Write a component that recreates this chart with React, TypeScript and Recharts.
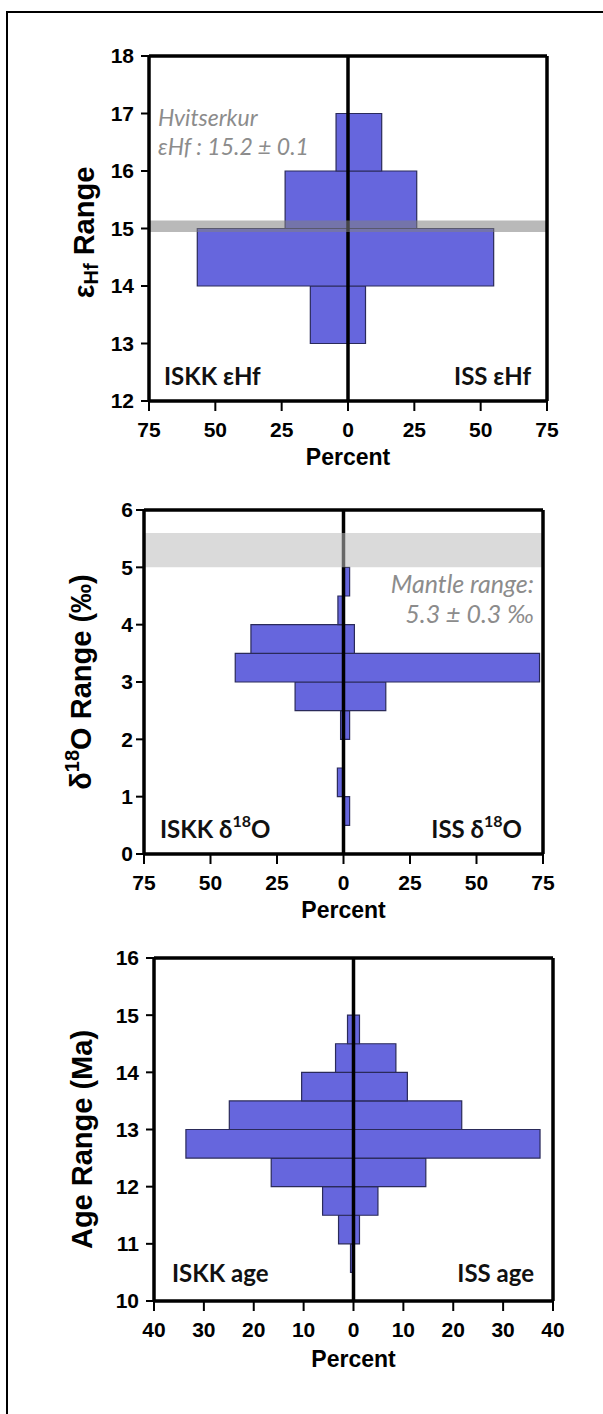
import { ComposedChart, Bar, XAxis, YAxis, ReferenceLine, ReferenceArea, Label } from 'recharts';

// eHf histogram, 1-unit bins (bin centres), percent of each suite
const hfBinMid = [13.5, 14.5, 15.5, 16.5];
const hfIskk = [14.2, 56.8, 23.7, 4.5];
const hfIss = [6.6, 54.9, 25.9, 12.7];
const hfTicks = [12, 13, 14, 15, 16, 17, 18];

// d18O histogram, 0.5 permil bins
const oBinMid = [0.75, 1.25, 1.75, 2.25, 2.75, 3.25, 3.75, 4.25, 4.75];
const oIskk = [0, 2.3, 0, 1.1, 18.2, 40.7, 34.8, 2.1, 0];
const oIss = [2.3, 0, 0, 2.3, 15.9, 73.7, 4.1, 0, 2.3];
const oTicks = [0, 1, 2, 3, 4, 5, 6];

// age histogram, 0.5 Ma bins
const ageBinMid = [10.75, 11.25, 11.75, 12.25, 12.75, 13.25, 13.75, 14.25, 14.75];
const ageIskk = [0.6, 3.0, 6.2, 16.5, 33.6, 24.9, 10.4, 3.6, 1.2];
const ageIss = [0, 1.2, 4.9, 14.5, 37.4, 21.7, 10.8, 8.5, 1.2];
const ageTicks = [10, 11, 12, 13, 14, 15, 16];

const pct75 = [-75, -50, -25, 0, 25, 50, 75];
const pct40 = [-40, -30, -20, -10, 0, 10, 20, 30, 40];

// reference bands
const hvitserkurBand = [14.94, 15.14];
const mantleBand = [5.0, 5.6];

const toRows = (mid: number[], left: number[], right: number[]) =>
  mid.map((m, i) => ({ mid: m, iskk: -left[i], iss: right[i] }));

const ARIAL = '"Liberation Sans", Arial, sans-serif';
const CALIBRI = 'Lato, "Noto Sans", sans-serif';
const BAR_FILL = '#6666dd';
const BAR_EDGE = '#2a2a5a';
const tickFont = { fontFamily: ARIAL, fontWeight: 700, fontSize: 21, fill: '#000' };
const axisLine = { stroke: '#000', strokeWidth: 3.5 };
const tickLine = { stroke: '#000', strokeWidth: 2 };

const TOP_H = 26;

function Panel(props: any) {
  const { top, height, bottomH, leftW, rightW, rows, xTicks, yTicks, bin, yLabel, labelX, labelDy, pctDy,
    yTickMargin, band, bandFill, bandOpacity, children } = props;
  const xDom = [xTicks[0], xTicks[xTicks.length - 1]];
  const yDom = [yTicks[0], yTicks[yTicks.length - 1]];
  const plotH = height - TOP_H - bottomH;
  // a hair under the bin height so recharts keeps the exact size
  const barSize = (bin * plotH) / (yDom[1] - yDom[0]) - 0.02;

  return (
    <div style={{ position: 'absolute', left: 0, top }}>
      <ComposedChart width={603} height={height} data={rows} layout="vertical" stackOffset="sign"
        barCategoryGap={0} barGap={0} margin={{ top: 0, right: 0, bottom: 0, left: 0 }}>
        <XAxis type="number" domain={xDom} ticks={xTicks} allowDataOverflow interval={0}
          tickFormatter={(v: number) => String(Math.abs(v))} height={bottomH}
          tickSize={10} tickMargin={11} tick={tickFont} axisLine={axisLine} tickLine={tickLine}>
          <Label content={(p: any) => {
            const vb = p.viewBox;
            return (
              <text x={vb.x + vb.width / 2} y={vb.y + pctDy} textAnchor="middle" dominantBaseline="central"
                fontFamily={ARIAL} fontWeight={700} fontSize={23} fill="#000">Percent</text>
            );
          }} />
        </XAxis>
        <XAxis xAxisId="top" orientation="top" type="number" domain={xDom} ticks={xTicks} allowDataOverflow
          interval={0} height={TOP_H} tick={false} tickSize={11} axisLine={axisLine} tickLine={tickLine} />
        <YAxis type="number" dataKey="mid" domain={yDom} ticks={yTicks} reversed allowDataOverflow interval={0}
          width={leftW} tickSize={8} tickMargin={yTickMargin} tick={tickFont} axisLine={axisLine} tickLine={tickLine}>
          <Label content={(p: any) => {
            const vb = p.viewBox;
            const cy = vb.y + vb.height / 2 + labelDy;
            return (
              <text x={labelX} y={cy} transform={`rotate(-90 ${labelX} ${cy})`} textAnchor="middle"
                dominantBaseline="central" fontFamily={ARIAL} fontWeight={700} fontSize={29} fill="#000">
                {yLabel}
              </text>
            );
          }} />
        </YAxis>
        <YAxis yAxisId="right" orientation="right" type="number" domain={yDom} ticks={yTicks} reversed
          allowDataOverflow interval={0} width={rightW} tick={false} tickSize={8} axisLine={axisLine} tickLine={tickLine} />
        <Bar dataKey="iskk" stackId="s" barSize={barSize} fill={BAR_FILL} stroke={BAR_EDGE} strokeWidth={1.2}
          isAnimationActive={false} />
        <Bar dataKey="iss" stackId="s" barSize={barSize} fill={BAR_FILL} stroke={BAR_EDGE} strokeWidth={1.2}
          isAnimationActive={false} />
        <ReferenceLine x={0} stroke="#000" strokeWidth={3.5} zIndex={450} />
        <ReferenceArea y1={band[0]} y2={band[1]} fill={bandFill} fillOpacity={bandOpacity} stroke="none"
          ifOverflow="visible" zIndex={460} />
        {children}
      </ComposedChart>
    </div>
  );
}

const gray = '#8c8c8c';

export default function App() {
  return (
    <div style={{ position: 'absolute', left: 0, top: 0, width: 603, height: 1414, overflow: 'hidden', background: '#fff' }}>
      <div style={{ position: 'absolute', left: 6, top: 11, width: 700, height: 1500,
        borderTop: '2px solid #000', borderLeft: '2px solid #000' }} />

      <Panel top={30} height={443} bottomH={72} leftW={149} rightW={56} rows={toRows(hfBinMid, hfIskk, hfIss)}
        xTicks={pct75} yTicks={hfTicks} bin={1} labelX={84} labelDy={4} pctDy={56} yTickMargin={7}
        band={hvitserkurBand} bandFill="#808080" bandOpacity={0.55}
        yLabel={<>
          <tspan>ε</tspan>
          <tspan dy={7} fontSize={20}>Hf</tspan>
          <tspan dy={-7}> Range</tspan>
        </>}>
        <text x={158} y={87} dominantBaseline="central" fontFamily={CALIBRI} fontStyle="italic" fontSize={23} fill={gray}>Hvitserkur</text>
        <text x={158} y={116} dominantBaseline="central" fontFamily={CALIBRI} fontStyle="italic" fontSize={23} fill={gray}>εHf : 15.2 ± 0.1</text>
        <text x={164} y={345} dominantBaseline="central" fontFamily={CALIBRI} fontWeight={700} fontSize={24} fill="#111">ISKK εHf</text>
        <text x={531} y={345} textAnchor="end" dominantBaseline="central" fontFamily={CALIBRI} fontWeight={700} fontSize={24} fill="#111">ISS εHf</text>
      </Panel>

      <Panel top={484} height={442} bottomH={72} leftW={144} rightW={60} rows={toRows(oBinMid, oIskk, oIss)}
        xTicks={pct75} yTicks={oTicks} bin={0.5} labelX={81} labelDy={0} pctDy={56} yTickMargin={3}
        band={mantleBand} bandFill="#bbbbbb" bandOpacity={0.55}
        yLabel={<>
          <tspan>δ</tspan>
          <tspan dy={-9} fontSize={20}>18</tspan>
          <tspan dy={9}>O Range (‰)</tspan>
        </>}>
        <text x={534} y={99} textAnchor="end" dominantBaseline="central" fontFamily={CALIBRI} fontStyle="italic" fontSize={25} fill={gray}>Mantle range:</text>
        <text x={534} y={129} textAnchor="end" dominantBaseline="central" fontFamily={CALIBRI} fontStyle="italic" fontSize={25} fill={gray}>5.3 ± 0.3 ‰</text>
        <text x={160} y={344} dominantBaseline="central" fontFamily={CALIBRI} fontWeight={700} fontSize={24} fill="#111">
          ISKK δ<tspan dy={-8} fontSize={16}>18</tspan><tspan dy={8}>O</tspan>
        </text>
        <text x={522} y={344} textAnchor="end" dominantBaseline="central" fontFamily={CALIBRI} fontWeight={700} fontSize={24} fill="#111">
          ISS δ<tspan dy={-8} fontSize={16}>18</tspan><tspan dy={8}>O</tspan>
        </text>
      </Panel>

      <Panel top={932} height={444} bottomH={75} leftW={154} rightW={50} rows={toRows(ageBinMid, ageIskk, ageIss)}
        xTicks={pct40} yTicks={ageTicks} bin={0.5} labelX={82} labelDy={10} pctDy={58} yTickMargin={7}
        band={[0, 0]} bandFill="none" bandOpacity={0}
        yLabel={<tspan>Age Range (Ma)</tspan>}>
        <text x={172} y={340} dominantBaseline="central" fontFamily={CALIBRI} fontWeight={700} fontSize={24} fill="#111">ISKK age</text>
        <text x={534} y={340} textAnchor="end" dominantBaseline="central" fontFamily={CALIBRI} fontWeight={700} fontSize={24} fill="#111">ISS age</text>
      </Panel>
    </div>
  );
}
